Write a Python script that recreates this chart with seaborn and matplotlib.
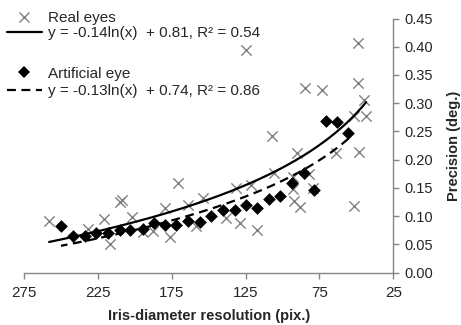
import numpy as np
import pandas as pd
import matplotlib.pyplot as plt
import seaborn as sns
from matplotlib.lines import Line2D

# Real eyes (x: iris diameter in pixels, y: precision in degrees)
real_x = [258, 210, 209, 221, 232, 217, 201.6, 194.5, 187.6, 179.7,
          176.4, 170.7, 164, 158.3, 153.8, 138, 129, 131.3, 121.2, 117,
          124.5, 107, 106, 92, 88.5, 90.3, 92.6, 92.9, 81.8, 79.5,
          63.7, 48, 51.8, 51.3, 43.4, 44.6, 85.1, 73.2, 49.1, 49.1]
real_y = [0.091, 0.125, 0.128, 0.094, 0.077, 0.050, 0.098, 0.072, 0.073, 0.115,
          0.063, 0.158, 0.119, 0.083, 0.132, 0.097, 0.088, 0.150, 0.155, 0.075,
          0.395, 0.242, 0.176, 0.126, 0.116, 0.212, 0.148, 0.170, 0.174, 0.150,
          0.212, 0.213, 0.118, 0.278, 0.278, 0.305, 0.327, 0.323, 0.407, 0.336]

# Artificial eye
art_x = [250, 241.7, 233.8, 226, 218, 210, 203.4, 194.4, 187.2, 179.7,
         171.8, 164, 156, 148.6, 140.3, 132.4, 125, 117, 109.3, 102,
         93.5, 85.8, 78.9, 70.5, 63, 55.4]
art_y = [0.083, 0.065, 0.064, 0.070, 0.070, 0.075, 0.075, 0.077, 0.088, 0.084,
         0.085, 0.091, 0.089, 0.100, 0.110, 0.110, 0.119, 0.115, 0.131, 0.135,
         0.158, 0.176, 0.147, 0.268, 0.267, 0.248]

# log trendlines as drawn in the picture: y = a*ln(x) + b
real_fit = (-0.139, 0.826)
art_fit = (-0.126, 0.743)

real_label = "y = -0.14ln(x)  + 0.81, R² = 0.54"
art_label = "y = -0.13ln(x)  + 0.74, R² = 0.86"

sns.set_style("white")
plt.rcParams['font.family'] = ['Liberation Sans', 'DejaVu Sans']

fig = plt.figure(figsize=(4.61, 3.25), dpi=100)
ax = fig.add_axes([0.0521, 0.1615, 0.8011, 0.7815])

real = pd.DataFrame({"x": real_x, "y": real_y})
art = pd.DataFrame({"x": art_x, "y": art_y})

sns.scatterplot(data=real, x="x", y="y", marker="x", s=55, color="#808080",
                linewidth=1.0, ax=ax, zorder=2)
sns.scatterplot(data=art, x="x", y="y", marker="D", s=42, color="black",
                linewidth=0, ax=ax, zorder=3)

xr = np.linspace(min(real_x), max(real_x), 200)
xa = np.linspace(min(art_x), max(art_x), 200)
sns.lineplot(x=xr, y=real_fit[0] * np.log(xr) + real_fit[1], color="black",
             linewidth=1.6, ax=ax, zorder=4)
sns.lineplot(x=xa, y=art_fit[0] * np.log(xa) + art_fit[1], color="black",
             linewidth=1.6, linestyle=(0, (4, 2.5)), ax=ax, zorder=4)

ax.set_xlim(275, 25)
ax.set_ylim(0, 0.45)
ax.set_xticks([275, 225, 175, 125, 75, 25])
ax.set_yticks(np.arange(0, 0.451, 0.05))
ax.set_yticklabels([f"{v:.2f}" for v in np.arange(0, 0.451, 0.05)])

ax.yaxis.tick_right()
ax.yaxis.set_label_position("right")
for s in ["top", "left"]:
    ax.spines[s].set_visible(False)
for s in ["bottom", "right"]:
    ax.spines[s].set_color("#868686")
    ax.spines[s].set_linewidth(1.0)
ax.tick_params(axis="both", which="both", direction="out", length=4, width=1,
               color="#868686")
ax.tick_params(axis="x", labelsize=11, pad=6, bottom=True)
ax.tick_params(axis="y", labelsize=10.5, pad=4, right=True, left=False)

ax.set_xlabel("Iris-diameter resolution (pix.)", fontsize=10.5, fontweight="bold",
              labelpad=6)
ax.set_ylabel("Precision (deg.)", fontsize=10.5, fontweight="bold", labelpad=10)

h_real = Line2D([], [], marker="x", color="#808080", linestyle="none",
                markersize=7.5, markeredgewidth=1.0)
h_realfit = Line2D([], [], color="black", linewidth=1.6)
h_art = Line2D([], [], marker="D", color="black", linestyle="none",
               markersize=5.8, markeredgewidth=0)
h_artfit = Line2D([], [], color="black", linewidth=1.6, linestyle=(0, (4, 2.5)))

leg1 = ax.legend([h_real, h_realfit], ["Real eyes", real_label],
                 loc="upper left", bbox_to_anchor=(0.015, 0.965),
                 bbox_transform=fig.transFigure, frameon=False, fontsize=11,
                 handlelength=2.3, handletextpad=0.4, labelspacing=0.05,
                 borderpad=0.0, borderaxespad=0.0)
ax.add_artist(leg1)
ax.legend([h_art, h_artfit], ["Artificial eye", art_label],
          loc="upper left", bbox_to_anchor=(0.015, 0.795),
          bbox_transform=fig.transFigure, frameon=False, fontsize=11,
          handlelength=2.3, handletextpad=0.4, labelspacing=0.25,
          borderpad=0.0, borderaxespad=0.0)

fig.savefig("out.png", dpi=100)
